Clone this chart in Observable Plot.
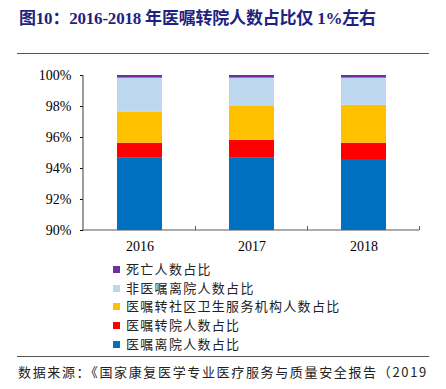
<!DOCTYPE html>
<html><head><meta charset="utf-8">
<script src="https://cdn.jsdelivr.net/npm/d3@7"></script>
<script src="https://cdn.jsdelivr.net/npm/@observablehq/plot@0.6"></script>
<style>
html,body{margin:0;padding:0;background:#fff;}
#wrap{position:relative;width:446px;height:389px;overflow:hidden;font-family:"Liberation Serif","Noto Sans CJK SC",serif;}
#title{position:absolute;left:19px;top:4px;font-size:17px;letter-spacing:-0.2px;font-weight:bold;color:#1f2380;white-space:nowrap;}
.hr{position:absolute;left:17px;width:412px;height:0;border-top:1.5px solid #555;}
#chart{position:absolute;left:0;top:60px;}
#chart svg text{font-family:"Liberation Serif",serif;font-size:14px;fill:#000;}
#legend{position:absolute;left:113px;top:260px;}
.li{position:relative;height:18.7px;line-height:18.7px;font-size:13px;letter-spacing:1.3px;font-family:"Noto Sans CJK SC",sans-serif;color:#222;white-space:nowrap;}
.sw{display:inline-block;width:7px;height:7px;margin-right:6px;vertical-align:1px;}
#source{position:absolute;left:18px;top:362px;font-size:13px;letter-spacing:1.65px;font-family:"Noto Sans CJK SC",sans-serif;color:#222;white-space:nowrap;}
</style></head>
<body>
<div id="wrap">
<div id="title">图10：2016-2018 年医嘱转院人数占比仅 1%左右</div>
<div class="hr" style="top:53px"></div>
<div id="chart"></div>
<div id="legend"></div>
<div class="hr" style="top:356px"></div>
<div id="source">数据来源：《国家康复医学专业医疗服务与质量安全报告（2019</div>
</div>
<script>
const years = ["2016", "2017", "2018"];
const series = ["医嘱离院人数占比", "医嘱转院人数占比", "医嘱转社区卫生服务机构人数占比", "非医嘱离院人数占比", "死亡人数占比"];
const colors = ["#0070C0", "#FF0000", "#FFC000", "#BDD7EE", "#7030A0"];
const leaveOrdered = [94.70, 94.70, 94.58];
const transferHospital = [0.93, 1.12, 1.05];
const transferCommunity = [2.02, 2.18, 2.45];
const leaveNonOrdered = [2.18, 1.83, 1.75];
const death = [0.17, 0.17, 0.17];
const yTicks = [90, 92, 94, 96, 98, 100];

const seriesValues = [leaveOrdered, transferHospital, transferCommunity, leaveNonOrdered, death];
const rows = [];
years.forEach((yr, i) => series.forEach((s, k) => rows.push({year: yr, series: s, value: seriesValues[k][i]})));

const axisColor = "#595959";
const axisMark = (index, scales, values, dim) => {
  const g = d3.create("svg:g");
  const x = scales.x, y = scales.y;
  const left = dim.marginLeft, right = dim.width - dim.marginRight;
  const y0 = y(90), y1 = y(100);
  g.append("line").attr("x1", left).attr("x2", left).attr("y1", y0).attr("y2", y1).attr("stroke", axisColor).attr("stroke-width", 1.2);
  const bw = x.bandwidth ? x.bandwidth() : 0;
  const centers = years.map(d => x(d) + bw / 2);
  const step = centers[1] - centers[0];
  centers.forEach(c => {
    const bx = c + step / 2;
    g.append("line").attr("x1", bx).attr("x2", bx).attr("y1", y0).attr("y2", y0 - 4).attr("stroke", axisColor).attr("stroke-width", 1);
  });
  g.append("line").attr("x1", left).attr("x2", right).attr("y1", y0).attr("y2", y0).attr("stroke", axisColor).attr("stroke-width", 1.2);
  return g.node();
};

const chart = Plot.plot({
  width: 446,
  height: 200,
  marginLeft: 83,
  marginRight: 27,
  marginTop: 15,
  marginBottom: 30,
  style: "font-family: 'Liberation Serif', serif; font-size: 14px; color: #000; background: transparent;",
  x: {domain: years, paddingInner: 0.6, paddingOuter: 0.3, label: null, tickSize: 0, tickPadding: 11},
  y: {domain: [90, 100], ticks: yTicks, tickFormat: d => d + "%", label: null, tickSize: 3, tickPadding: 9},
  color: {domain: series, range: colors},
  marks: [
    Plot.barY(rows, {x: "year", y: "value", fill: "series", order: series, clip: true}),
    axisMark
  ]
});
document.getElementById("chart").appendChild(chart);

const legendOrder = [4, 3, 2, 1, 0];
const lg = document.getElementById("legend");
legendOrder.forEach(k => {
  const d = document.createElement("div");
  d.className = "li";
  d.innerHTML = `<span class="sw" style="background:${colors[k]}"></span>${series[k]}`;
  lg.appendChild(d);
});
</script>
</body></html>
